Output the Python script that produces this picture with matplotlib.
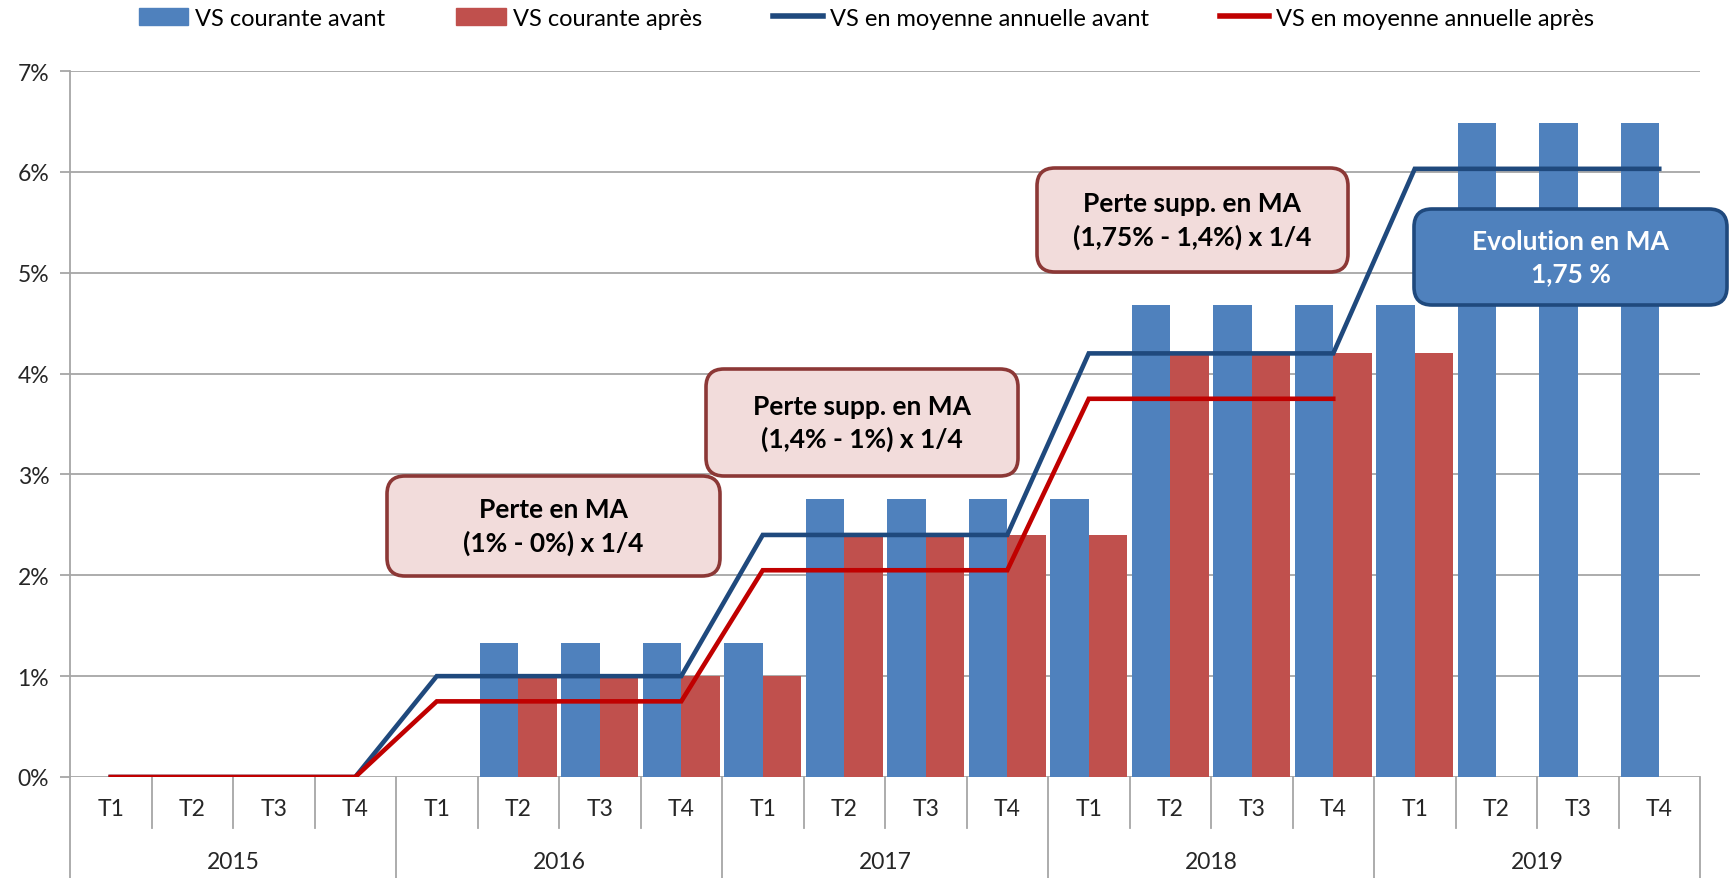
"""Recreate the MA chart (VS courante / moyenne annuelle)."""

import numpy as np
import matplotlib.pyplot as plt
from matplotlib.patches import FancyBboxPatch, Patch
from matplotlib.lines import Line2D
from matplotlib.transforms import IdentityTransform, blended_transform_factory

plt.rcParams['font.family'] = ['Lato', 'DejaVu Sans']

years = ["2015", "2016", "2017", "2018", "2019"]
quarters = ["T1", "T2", "T3", "T4"]
nan = np.nan

# bar series (%)
vs_avant = [nan, nan, nan, nan,
            nan, 1.33, 1.33, 1.33,
            1.33, 2.76, 2.76, 2.76,
            2.76, 4.68, 4.68, 4.68,
            4.68, 6.48, 6.48, 6.48]
vs_apres = [nan, nan, nan, nan,
            nan, 1.0, 1.0, 1.0,
            1.0, 2.4, 2.4, 2.4,
            2.4, 4.2, 4.2, 4.2,
            4.2, nan, nan, nan]
# line series (%)
ma_avant = [0, 0, 0, 0,
            1.0, 1.0, 1.0, 1.0,
            2.4, 2.4, 2.4, 2.4,
            4.2, 4.2, 4.2, 4.2,
            6.03, 6.03, 6.03, 6.03]
ma_apres = [0, 0, 0, 0,
            0.75, 0.75, 0.75, 0.75,
            2.05, 2.05, 2.05, 2.05,
            3.75, 3.75, 3.75, 3.75,
            nan, nan, nan, nan]

labels = ["VS courante avant", "VS courante après",
          "VS en moyenne annuelle avant", "VS en moyenne annuelle après"]
box_texts = ["Perte en MA\n(1% - 0%) x 1/4",
             "Perte supp. en MA\n(1,4% - 1%) x 1/4",
             "Perte supp. en MA\n(1,75% - 1,4%) x 1/4",
             "Evolution en MA\n1,75 %"]

BLUE = "#4F81BD"
RED = "#C0504D"
LBLUE = "#1F497D"
LRED = "#C00000"
GRID = "#A6A6A6"

W, H = 1733, 879
fig = plt.figure(figsize=(W / 100, H / 100), dpi=100)
ax = fig.add_axes([70 / W, (H - 778) / H, 1630 / W, 706 / H])

n = len(vs_avant)
x = np.arange(n)
bw = 0.47
ax.bar(x - bw / 2, vs_avant, bw, color=BLUE, zorder=2)
ax.bar(x + bw / 2, vs_apres, bw, color=RED, zorder=2)
ax.plot(x, ma_avant, color=LBLUE, lw=3.3, zorder=3, solid_joinstyle="miter")
ax.plot(x, ma_apres, color=LRED, lw=3.3, zorder=3, solid_joinstyle="miter")

ax.set_xlim(-0.5, n - 0.5)
ax.set_ylim(0, 7)
ax.set_yticks(range(8))
ax.set_yticklabels([f"{v}%" for v in range(8)], fontsize=16.5, color="#262626")
ax.yaxis.grid(True, color=GRID, lw=1.3, zorder=0)
ax.set_axisbelow(True)
ax.tick_params(axis="y", length=7, width=1.3, color=GRID, pad=8)
ax.set_xticks([])
for side in ["top", "right", "bottom"]:
    ax.spines[side].set_visible(False)
ax.spines["left"].set_color(GRID)
ax.spines["left"].set_linewidth(1.3)

# category axis: quarters and years
tr = blended_transform_factory(ax.transData, ax.transAxes)
for i in range(n):
    ax.text(i, -0.045, quarters[i % 4], transform=tr, ha="center", va="center",
            fontsize=16.5, color="#262626")
for k in range(n + 1):
    bottom = -0.143 if k % 4 == 0 else -0.072
    ax.plot([k - 0.5, k - 0.5], [0, bottom], transform=tr, color=GRID,
            lw=1.3, clip_on=False)
for j, yr in enumerate(years):
    ax.text(4 * j + 1.5, -0.119, yr, transform=tr, ha="center", va="center",
            fontsize=16.5, color="#262626")

# annotation boxes (pixel positions: left, top, right, bottom)
box_pos = [(387, 477, 720, 577), (706, 370, 1018, 477),
           (1037, 169, 1348, 273), (1414, 210, 1727, 306)]
box_styles = [("#F2DCDB", "#8C3836", "black")] * 3 + [(BLUE, LBLUE, "white")]
for (l, t, r, b), txt, (fc, ec, tc) in zip(box_pos, box_texts, box_styles):
    p = FancyBboxPatch((l, H - b), r - l, b - t,
                       boxstyle="round,pad=0,rounding_size=18",
                       fc=fc, ec=ec, lw=2.6, transform=IdentityTransform(),
                       zorder=5)
    fig.add_artist(p)
    fig.text((l + r) / 2 / W, 1 - (t + b) / 2 / H, txt, ha="center",
             va="center", fontsize=19, fontweight="bold", color=tc,
             linespacing=1.4, zorder=6)

handles = [Patch(color=BLUE), Patch(color=RED),
           Line2D([], [], color=LBLUE, lw=4), Line2D([], [], color=LRED, lw=4)]
fig.legend(handles, labels, loc="center", bbox_to_anchor=(0.5, 1 - 19 / H),
           ncol=4, frameon=False, fontsize=17, handlelength=2.1,
           handleheight=0.75, handletextpad=0.3, columnspacing=3.0)

fig.savefig("out.png", dpi=100)
